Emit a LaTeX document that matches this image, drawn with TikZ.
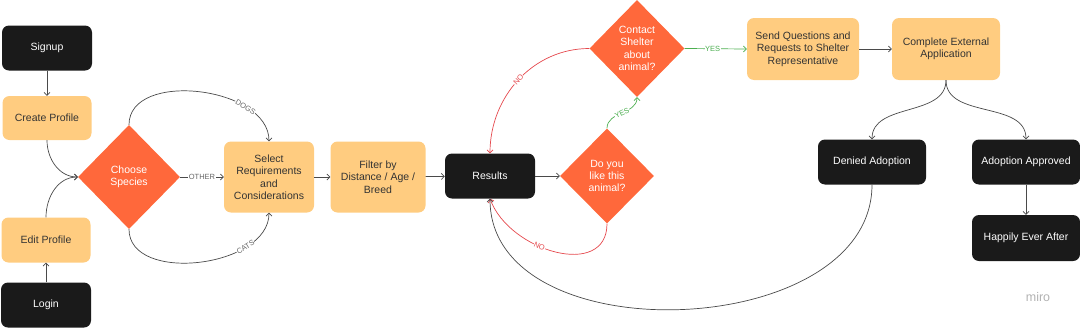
\documentclass[tikz,border=0pt]{standalone}
\usepackage{fontspec}
\setmainfont{Liberation Sans}
\usetikzlibrary{shapes.geometric,arrows.meta}

\definecolor{darkfill}{HTML}{1A1A1A}
\definecolor{lightfill}{HTML}{FFCC80}
\definecolor{askfill}{HTML}{FF683B}
\definecolor{linegray}{HTML}{4A4A4A}
\definecolor{nored}{HTML}{E5484D}
\definecolor{yesgreen}{HTML}{4CAF50}

\tikzset{
  basebox/.style={rounded corners=7pt, align=center, inner sep=2pt,
    font=\fontsize{10.5}{12.5}\selectfont},
  darkbox/.style={basebox, fill=darkfill, text=white},
  lightbox/.style={basebox, fill=lightfill, text=black!80},
  ask/.style={diamond, fill=askfill, text=white, inner sep=0pt, align=center,
    font=\fontsize{10.5}{12.3}\selectfont},
  link/.style={->, draw=linegray, line width=0.7pt},
  tag/.style={font=\fontsize{7.5}{8}\selectfont, text=black!60, fill=white,
    inner sep=0.5pt},
}

\begin{document}
\begin{tikzpicture}[x=1pt, y=-1pt, >={Straight Barb[length=3pt,width=6pt]}]
    \useasboundingbox (0,0) rectangle (1080,327);

    % 1. Profile
    \node[darkbox, minimum width=90pt, minimum height=45pt] (signup) at (47,48) {Signup};
    \node[lightbox, minimum width=89pt, minimum height=44pt] (create) at (47,118) {Create Profile};
    \node[lightbox, minimum width=89pt, minimum height=45pt] (edit) at (46,240) {Edit Profile};
    \node[darkbox, minimum width=90pt, minimum height=45pt] (login) at (46,305) {Login};

    % 2. Search
    \node[ask, minimum width=102pt, minimum height=104pt] (species) at (129,177) {Choose\\Species};
    \node[lightbox, minimum width=90pt, minimum height=71pt] (needs) at (269,177) {Select\\Requirements\\and\\Considerations};
    \node[lightbox, minimum width=95pt, minimum height=71pt] (filter) at (378,177) {Filter by\\Distance / Age /\\Breed};
    \node[darkbox, minimum width=90pt, minimum height=45pt] (results) at (490,176) {Results};

    % 3. Decisions
    \node[ask, minimum width=94pt, minimum height=95pt] (like) at (607,176) {Do you\\like this\\animal?};
    \node[ask, minimum width=95pt, minimum height=97pt] (contact) at (637,48.5) {Contact\\Shelter\\about\\animal?};

    % 4. Adoption
    \node[lightbox, minimum width=112pt, minimum height=62pt] (send) at (803,49) {Send Questions and\\Requests to Shelter\\Representative};
    \node[lightbox, minimum width=108pt, minimum height=62pt] (apply) at (946,49) {Complete External\\Application};
    \node[darkbox, minimum width=108pt, minimum height=45pt] (denied) at (872,162) {Denied Adoption};
    \node[darkbox, minimum width=108pt, minimum height=45pt] (approved) at (1026,162) {Adoption Approved};
    \node[darkbox, minimum width=108pt, minimum height=46pt] (happy) at (1026,238) {Happily Ever After};

    \node[text=black!30, font=\fontsize{12.5}{12}\selectfont] (miro) at (1038,297) {miro};

    % 5. Connectors
    \draw[link] (signup) -- (create);
    \draw[link] (login) -- (edit);
    \draw[link] (create.south) to[out=-90, in=180] (species.west);
    \draw[link] (edit.north) to[out=90, in=180] (species.west);
    \draw[link] (species.north) to[out=90, in=90]
        node[tag, sloped, pos=0.74] {DOGS} (needs.north);
    \draw[link] (species.east) -- node[tag] {OTHER} (needs.west);
    \draw[link] (species.south) to[out=-90, in=-90]
        node[tag, sloped, pos=0.74] {CATS} (needs.south);
    \draw[link] (needs) -- (filter);
    \draw[link] (filter) -- (results);
    \draw[link] (results) -- (like);
    \draw[link, draw=yesgreen] (like.north) to[out=90, in=-90]
        node[tag, text=yesgreen, sloped] {YES} (contact.south);
    \draw[link, draw=nored] (like.south) to[out=-90, in=-70, looseness=1.2]
        node[tag, text=nored, sloped, pos=0.6] {NO} (results.south);
    \draw[link, draw=nored] (contact.west) to[out=180, in=90]
        node[tag, text=nored, sloped] {NO} (results.north);
    \draw[link, draw=yesgreen] (contact.east) -- node[tag, text=yesgreen, pos=0.45] {YES} (send.west);
    \draw[link] (send) -- (apply);
    \draw[link] (apply.south) to[out=-90, in=90] (denied.north);
    \draw[link] (apply.south) to[out=-90, in=90] (approved.north);
    \draw[link] (approved) -- (happy);
    \draw[link] (denied.south) to[out=-90, in=-90, looseness=1.05] (results.south);
\end{tikzpicture}
\end{document}
